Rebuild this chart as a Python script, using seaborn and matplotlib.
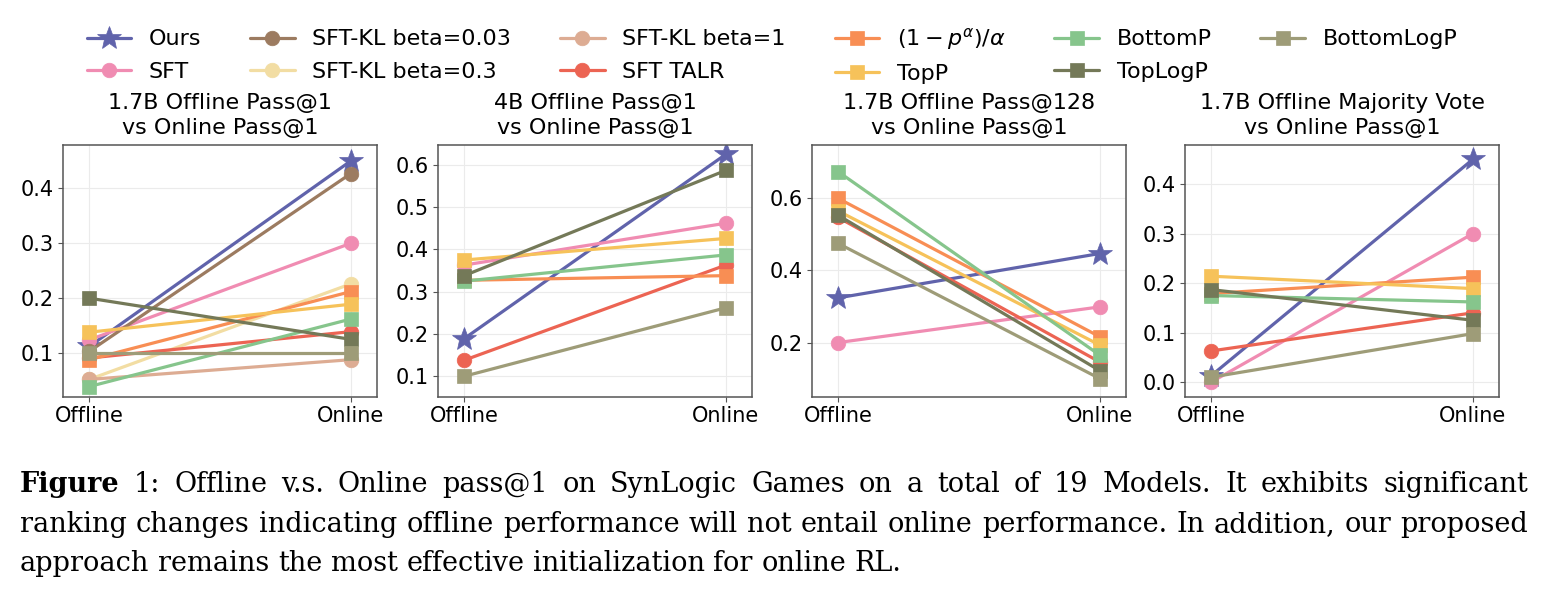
import numpy as np
import pandas as pd
import matplotlib
matplotlib.use("Agg")
import matplotlib.pyplot as plt
import seaborn as sns

# ---------------- data ----------------
methods = ["Ours", "SFT", "SFT-KL beta=0.03", "SFT-KL beta=0.3", "SFT-KL beta=1",
           "SFT TALR", r"$(1-p^{\alpha})/\alpha$", "TopP", "BottomP", "TopLogP", "BottomLogP"]
colors = ["#6063ab", "#f08cb2", "#9c7b60", "#f2dda3", "#ddac93", "#ec6453",
          "#f88e54", "#f6c25a", "#86c58c", "#747958", "#9e9c78"]
markers = ["*", "o", "o", "o", "o", "o", "s", "s", "s", "s", "s"]
stages = ["Offline", "Online"]

titles = ["1.7B Offline Pass@1\nvs Online Pass@1",
          "4B Offline Pass@1\nvs Online Pass@1",
          "1.7B Offline Pass@128\nvs Online Pass@1",
          "1.7B Offline Majority Vote\nvs Online Pass@1"]

nan = np.nan
p1_offline = [0.112, 0.124, 0.103, 0.052, 0.052, 0.091, 0.088, 0.138, 0.039, 0.200, 0.100]
p1_online  = [0.450, 0.300, 0.427, 0.226, 0.088, 0.139, 0.212, 0.189, 0.162, 0.125, 0.100]
p2_offline = [0.189, 0.363, nan, nan, nan, 0.138, 0.327, 0.375, 0.325, 0.338, 0.100]
p2_online  = [0.625, 0.462, nan, nan, nan, 0.363, 0.338, 0.426, 0.387, 0.587, 0.262]
p3_offline = [0.324, 0.200, nan, nan, nan, 0.547, 0.600, 0.565, 0.674, 0.553, 0.475]
p3_online  = [0.447, 0.299, nan, nan, nan, 0.146, 0.216, 0.193, 0.165, 0.122, 0.100]
p4_offline = [0.013, 0.000, nan, nan, nan, 0.063, 0.179, 0.214, 0.175, 0.187, 0.010]
p4_online  = [0.450, 0.300, nan, nan, nan, 0.140, 0.212, 0.189, 0.162, 0.125, 0.098]

yticks = [[0.1, 0.2, 0.3, 0.4], [0.1, 0.2, 0.3, 0.4, 0.5, 0.6], [0.2, 0.4, 0.6], [0.0, 0.1, 0.2, 0.3, 0.4]]
ylims = [(0.020, 0.479), (0.051, 0.647), (0.049, 0.748), (-0.030, 0.479)]

caption_lines = [
    ["Figure", "1:", "Offline", "v.s.", "Online", "pass@1", "on", "SynLogic", "Games", "on", "a", "total",
     "of", "19", "Models.", "It", "exhibits", "significant"],
    ["ranking", "changes", "indicating", "offline", "performance", "will", "not", "entail", "online",
     "performance.", "In", "addition,", "our", "proposed"],
    ["approach", "remains", "the", "most", "effective", "initialization", "for", "online", "RL."],
]

panels = [(p1_offline, p1_online), (p2_offline, p2_online),
          (p3_offline, p3_online), (p4_offline, p4_online)]
rows = []
for pi, (off, on) in enumerate(panels):
    for mi, m in enumerate(methods):
        rows.append(dict(panel=pi, method=m, stage=0, value=off[mi]))
        rows.append(dict(panel=pi, method=m, stage=1, value=on[mi]))
df = pd.DataFrame(rows)

# ---------------- style ----------------
sns.set_style("whitegrid", {"grid.color": "#ebebeb", "axes.edgecolor": "#555555",
                            "xtick.bottom": True, "ytick.left": True,
                            "text.color": "black", "axes.labelcolor": "black"})
plt.rcParams["font.family"] = ["DejaVu Sans"]
plt.rcParams["xtick.color"] = "#555555"
plt.rcParams["ytick.color"] = "#555555"
plt.rcParams["xtick.labelcolor"] = "black"
plt.rcParams["ytick.labelcolor"] = "black"
plt.rcParams["xtick.major.size"] = 3.5
plt.rcParams["ytick.major.size"] = 3.5

W, H = 1544, 594
fig = plt.figure(figsize=(W / 100, H / 100), dpi=100)

lefts = [63, 438, 812, 1185]
ax_w, ax_top, ax_bot = 314, 145, 397
axes = []
for pi in range(4):
    ax = fig.add_axes([lefts[pi] / W, (H - ax_bot) / H, ax_w / W, (ax_bot - ax_top) / H])
    axes.append(ax)
    for mi, m in enumerate(methods):
        sub = df[(df.panel == pi) & (df.method == m)].dropna()
        if sub.empty:
            continue
        ms = 18 if markers[mi] == "*" else 10.5
        sns.lineplot(data=sub, x="stage", y="value", ax=ax, color=colors[mi],
                     marker=markers[mi], markersize=ms, linewidth=2.3,
                     markeredgewidth=0.5, markeredgecolor=colors[mi],
                     errorbar=None, sort=False, label=m)
    ax.set_xlim(-0.1, 1.1)
    ax.set_ylim(*ylims[pi])
    ax.set_xticks([0, 1])
    ax.set_xticklabels(stages)
    ax.set_yticks(yticks[pi])
    ax.set_yticklabels([f"{t:.1f}" for t in yticks[pi]])
    ax.tick_params(axis="both", labelsize=15, pad=3)
    ax.set_xlabel("")
    ax.set_ylabel("")
    ax.set_title(titles[pi], fontsize=16, pad=8, linespacing=1.3, color="black")
    for s in ax.spines.values():
        s.set_linewidth(1.1)
        s.set_color("#555555")
    if ax.get_legend() is not None:
        ax.get_legend().remove()

handles, labels = axes[0].get_legend_handles_labels()
fig.legend(handles, labels, loc="upper center", bbox_to_anchor=(0.5, 0.99), ncol=6,
           frameon=False, fontsize=16, columnspacing=2.2, handlelength=2.0,
           handletextpad=0.8, labelspacing=0.55)

# ---------------- caption (justified) ----------------
fig.canvas.draw()
renderer = fig.canvas.get_renderer()
cap_family = ["DejaVu Serif"]


def wwidth(s, size, weight="normal"):
    t = fig.text(0, 0, s, fontsize=size, family=cap_family, fontweight=weight)
    w = t.get_window_extent(renderer).width
    t.remove()
    return w

ref = " ".join(caption_lines[1])
size = 20 * 1500 / wwidth(ref, 20)
x0, x1 = 20, 1528
baselines = [492, 532, 571]
for li, words in enumerate(caption_lines):
    weights = ["bold" if (li == 0 and wi == 0) else "normal" for wi in range(len(words))]
    widths = [wwidth(w, size, wt) for w, wt in zip(words, weights)]
    if li < 2:
        gap = (x1 - x0 - sum(widths)) / (len(words) - 1)
    else:
        gap = wwidth("a b", size) - wwidth("ab", size)
    x = x0
    for w, wt, wd in zip(words, weights, widths):
        fig.text(x / W, 1 - baselines[li] / H, w, fontsize=size, family=cap_family,
                 fontweight=wt, va="baseline", ha="left", color="black")
        x += wd + gap

fig.savefig("out.png", dpi=100)
